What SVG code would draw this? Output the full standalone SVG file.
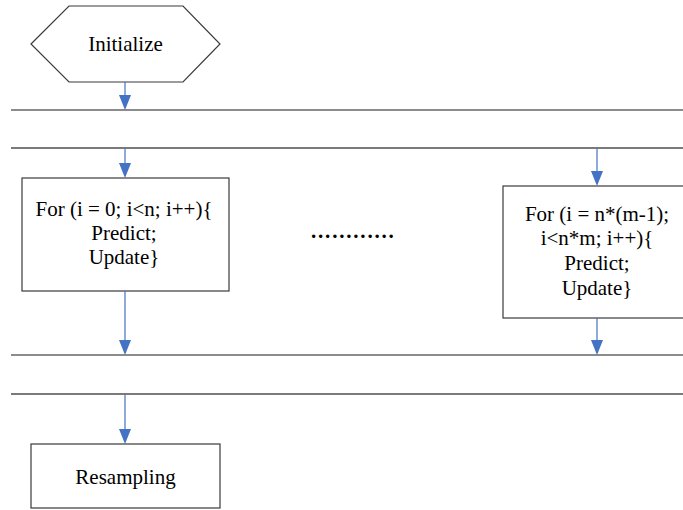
<svg xmlns="http://www.w3.org/2000/svg" width="683" height="510" viewBox="0 0 683 510">
  <style>
    .shape { fill: #ffffff; stroke: #3a3a3a; stroke-width: 1.2; }
    .bar { stroke: #1a1a1a; stroke-width: 1.2; }
    .bar2 { stroke: #7a7a7a; stroke-width: 2; }
    .flow { stroke: #4472C4; stroke-width: 1.2; fill: none; }
    .head { fill: #4472C4; stroke: none; }
    .lbl { font-family: 'Liberation Serif', 'Times New Roman', serif; font-size: 21px; text-anchor: middle; fill: #000000; }
  </style>

  <rect width="683" height="510" fill="#ffffff"/>

  <!-- synchronisation bars -->
  <g id="bars">
    <line class="bar" x1="11" y1="110" x2="683" y2="110"/>
    <line class="bar2" x1="11" y1="148" x2="683" y2="148"/>
    <line class="bar" x1="11" y1="355" x2="683" y2="355"/>
    <line class="bar2" x1="11" y1="394" x2="683" y2="394"/>
  </g>

  <g id="initialize">
    <polygon class="shape" points="31,44 69,6 183,6 220,44 183,82 69,82"/>
    <text class="lbl" x="125.5" y="51">Initialize</text>
  </g>

  <g id="loop-first">
    <rect class="shape" x="22" y="178" width="207" height="113"/>
    <text class="lbl" x="124" y="216">For (i = 0; i&lt;n; i++){</text>
    <text class="lbl" x="124" y="240">Predict;</text>
    <text class="lbl" x="124" y="264">Update}</text>
  </g>

  <g id="ellipsis">
    <text x="311" y="238" font-family="Liberation Serif, serif" font-size="21" font-weight="bold" letter-spacing="1.8">............</text>
  </g>

  <g id="loop-last">
    <rect class="shape" x="503" y="186" width="190" height="132"/>
    <text class="lbl" x="597" y="221">For (i = n*(m-1);</text>
    <text class="lbl" x="597" y="245">i&lt;n*m; i++){</text>
    <text class="lbl" x="597" y="270">Predict;</text>
    <text class="lbl" x="597" y="295">Update}</text>
  </g>

  <g id="resampling">
    <rect class="shape" x="31" y="444" width="189" height="64"/>
    <text class="lbl" x="125.5" y="484">Resampling</text>
  </g>

  <!-- connectors: shaft plus filled triangular head -->
  <g id="connectors">
    <line class="flow" x1="125" y1="82" x2="125" y2="96"/>
    <path class="head" d="M119,95 L131,95 L125,110 Z"/>
    <line class="flow" x1="125" y1="149" x2="125" y2="164"/>
    <path class="head" d="M119,163 L131,163 L125,178 Z"/>
    <line class="flow" x1="597" y1="149" x2="597" y2="172"/>
    <path class="head" d="M591,171 L603,171 L597,186 Z"/>
    <line class="flow" x1="125" y1="291" x2="125" y2="341"/>
    <path class="head" d="M119,340 L131,340 L125,355 Z"/>
    <line class="flow" x1="597" y1="318" x2="597" y2="341"/>
    <path class="head" d="M591,340 L603,340 L597,355 Z"/>
    <line class="flow" x1="125" y1="395" x2="125" y2="430"/>
    <path class="head" d="M119,429 L131,429 L125,444 Z"/>
  </g>
</svg>
